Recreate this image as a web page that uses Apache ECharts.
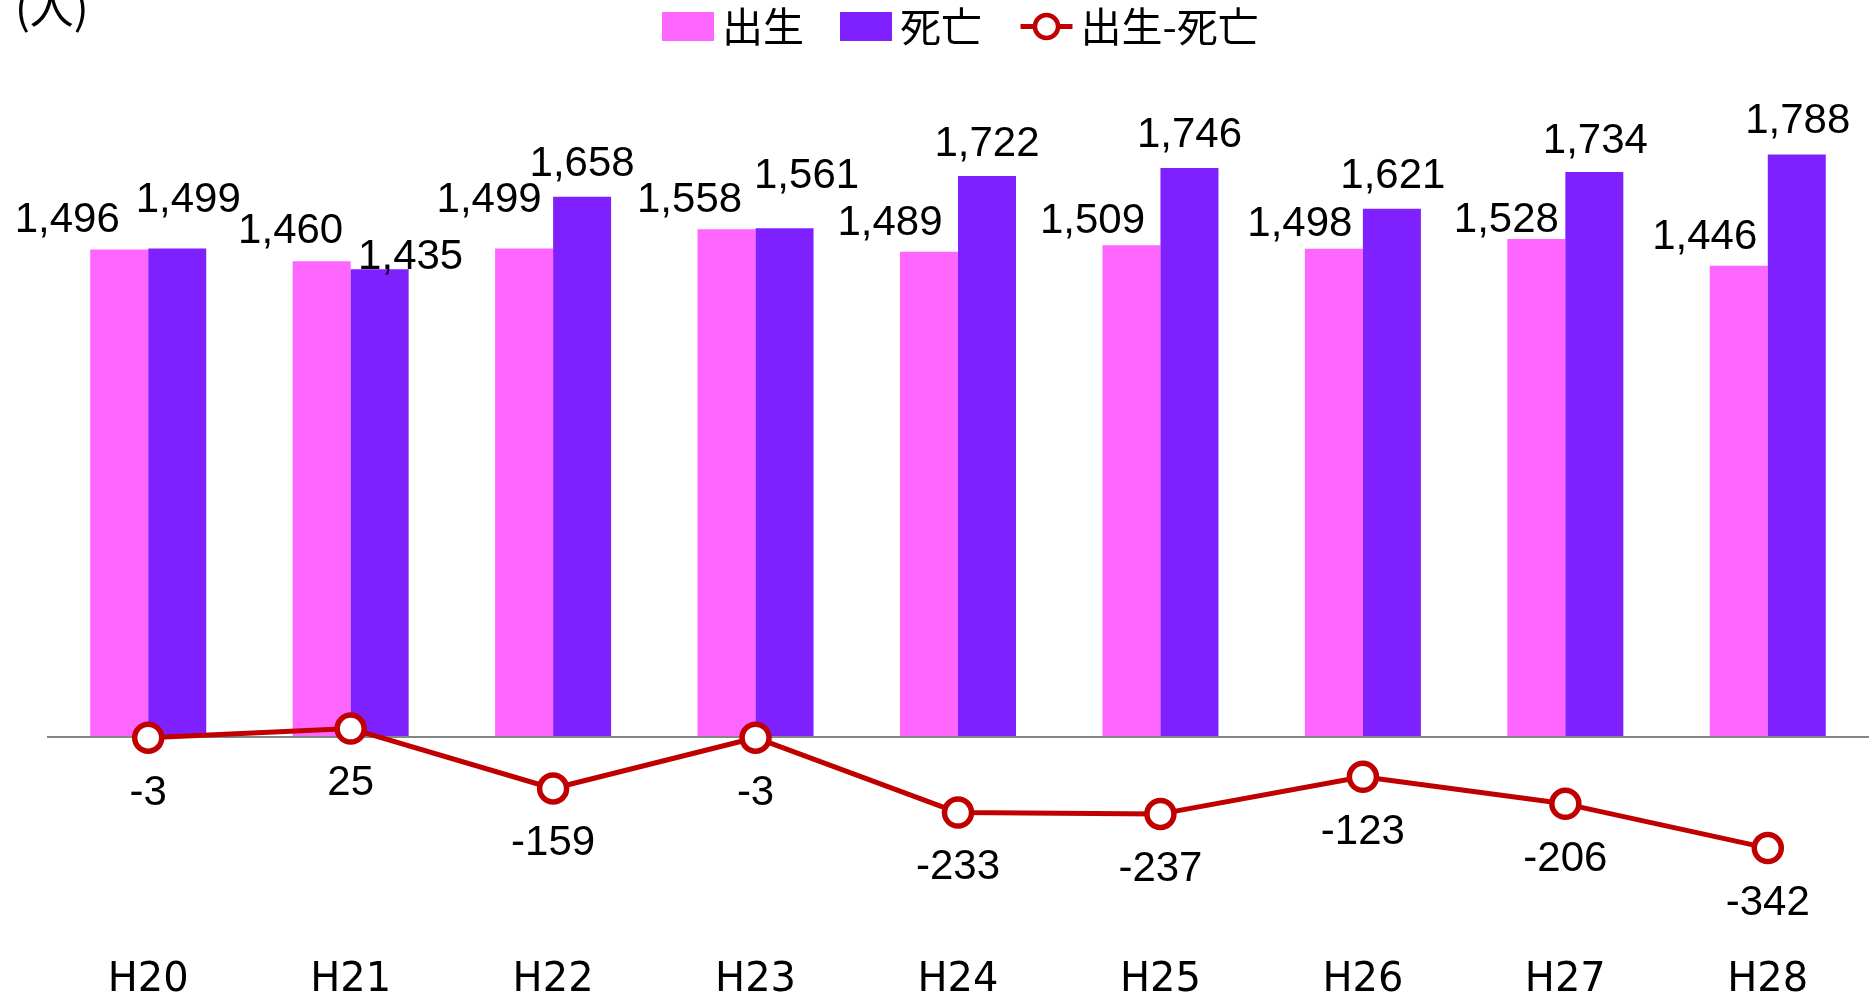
<!DOCTYPE html>
<html><head><meta charset="utf-8">
<script src="https://cdn.jsdelivr.net/npm/echarts@6/dist/echarts.min.js"></script>
<style>html,body{margin:0;padding:0;background:#fff}#c{width:1870px;height:1001px}</style>
</head><body><div id="c"></div>
<script>
var categories = ['H20','H21','H22','H23','H24','H25','H26','H27','H28'];
var births = [1496,1460,1499,1558,1489,1509,1498,1528,1446];
var deaths = [1499,1435,1658,1561,1722,1746,1621,1734,1788];
var diff = [-3,25,-159,-3,-233,-237,-123,-206,-342];
var seriesNames = ['出生','死亡','出生-死亡'];
var unitLabel = '(人)';

// layout-only label adjustments (pixels)
var birthLabelShift = [[-52,-11],[-31,-12],[-35,-30],[-37,-11],[-39,-10],[-39,-6],[-34,-6],[-30,-1],[-34,-10]];
var deathLabelShift = [[11,-30],[31,6],[0,-14],[22,-34],[0,-13],[0,-15],[1,-14],[1,-13],[1,-15]];
var labelDrop = 3;

var labelFont = {fontFamily:'"Liberation Sans", Arial, sans-serif', fontSize:42, color:'#000'};
function fmt(v){return v.toLocaleString('en-US');}
function barData(vals, shifts){
  return vals.map(function(v,i){
    return {value:v, label:{offset:[shifts[i][0], shifts[i][1] + labelDrop]}};
  });
}

var chart = echarts.init(document.getElementById('c'));
chart.setOption({
  animation:false,
  backgroundColor:'#fff',
  graphic:[{type:'text', left:15, top:-15, style:{text:unitLabel, font:'44px "Noto Sans CJK JP", sans-serif', fill:'#000'}}],
  legend:{
    left:662, top:6, itemWidth:52, itemHeight:29, itemGap:36, padding:0,
    textStyle:{fontFamily:'"Noto Sans CJK JP", sans-serif', fontSize:41, color:'#000', padding:[0,0,18,3]},
    lineStyle:{width:5},
    itemStyle:{borderWidth:4.5},
    data:[{name:seriesNames[0], icon:'rect'},{name:seriesNames[1], icon:'rect'},{name:seriesNames[2]}]
  },
  grid:{left:47, right:1, top:150.5, bottom:130, containLabel:false},
  xAxis:{
    type:'category', data:categories,
    axisLine:{show:false}, axisTick:{show:false},
    axisLabel:{margin:94, fontFamily:'"DejaVu Sans", Verdana, sans-serif', fontSize:40, color:'#000'}
  },
  yAxis:{type:'value', min:-400, max:1800, show:false, splitLine:{show:false}},
  series:[
    {name:seriesNames[0], type:'bar', barWidth:58, barGap:'0%', itemStyle:{color:'#FF66FF'},
     data:barData(births, birthLabelShift),
     label:Object.assign({show:true, position:'top', distance:0, formatter:function(p){return fmt(p.value);}}, labelFont),
     markLine:{silent:true, symbol:'none', label:{show:false}, lineStyle:{color:'#868686', width:2, type:'solid'}, data:[{yAxis:0}]},
     z:2},
    {name:seriesNames[1], type:'bar', barWidth:58, barGap:'0%', itemStyle:{color:'#7F21FF'},
     data:barData(deaths, deathLabelShift),
     label:Object.assign({show:true, position:'top', distance:0, formatter:function(p){return fmt(p.value);}}, labelFont),
     z:2},
    {name:seriesNames[2], type:'line', data:diff, symbol:'circle', symbolSize:27,
     lineStyle:{color:'#C00000', width:5},
     itemStyle:{color:'#fff', borderColor:'#C00000', borderWidth:5.5},
     label:Object.assign({show:true, position:'bottom', distance:18}, labelFont),
     z:5}
  ]
});
</script></body></html>
